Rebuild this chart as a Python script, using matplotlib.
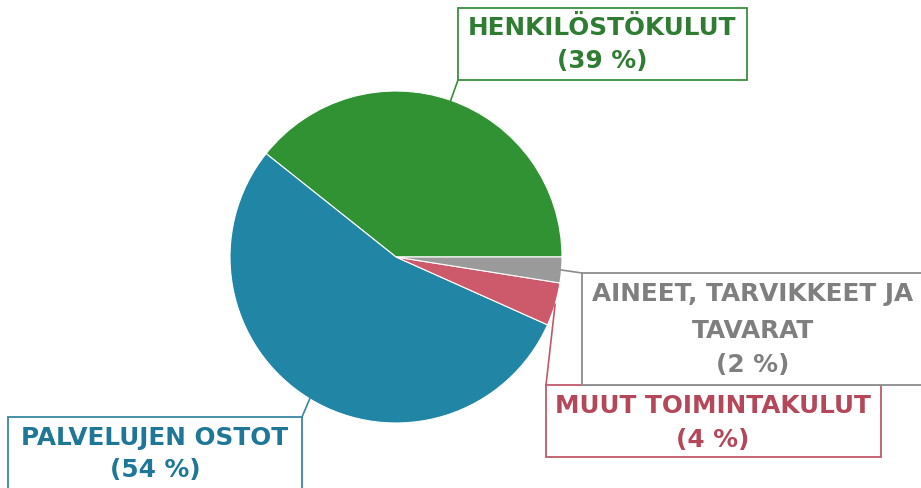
import matplotlib
matplotlib.use("Agg")
import matplotlib.pyplot as plt
import numpy as np
from matplotlib.patches import Rectangle

# Data
categories = ["HENKILÖSTÖKULUT", "PALVELUJEN OSTOT", "MUUT TOIMINTAKULUT", "AINEET, TARVIKKEET JA\nTAVARAT"]
values = [39.3, 54.0, 4.2, 2.5]
pct_labels = ["(39 %)", "(54 %)", "(4 %)", "(2 %)"]

slice_colors = ["#319234", "#2185a5", "#cc5a6b", "#9a9a9a"]
text_colors = ["#2e7d32", "#1f7797", "#b5475a", "#7f7f7f"]
edge_colors = ["#3a8f3e", "#3a87a3", "#c05a6a", "#8c8c8c"]

W, H = 921, 489
fig = plt.figure(figsize=(W / 100, H / 100), dpi=100)
ax = fig.add_axes([0, 0, 1, 1])

def Y(y):
    return H - y

cx, cy, r = 396, Y(258), 166
wedges, _ = ax.pie(values, colors=slice_colors, startangle=0, counterclock=True,
                   center=(cx, cy), radius=r, frame=True,
                   wedgeprops=dict(edgecolor="white", linewidth=0.8))
ax.set_xlim(0, W)
ax.set_ylim(0, H)
ax.set_aspect("equal")
ax.axis("off")

# label boxes: (x0, y0, x1, y1) in pixel coords (y down), text center x, line y's, anchor on box
boxes = [
    dict(rect=(458, 9, 747, 81), tx=602, ty=[28, 61], anchor=(458, 81)),
    dict(rect=(8, 418, 302, 500), tx=155, ty=[438, 470], anchor=(302, 418)),
    dict(rect=(546, 386, 881, 458), tx=713, ty=[406, 440], anchor=(546, 386)),
    dict(rect=(582, 274, 935, 386), tx=753, ty=[294, 331, 365], anchor=(582, 274)),
]

fp = dict(family=["DejaVu Sans"], weight="bold", fontsize=17.8)

for i, (w, b) in enumerate(zip(wedges, boxes)):
    mid = np.deg2rad((w.theta1 + w.theta2) / 2)
    px, py = cx + r * np.cos(mid), cy + r * np.sin(mid)
    ax_, ay_ = b["anchor"]
    ax.plot([px, ax_], [py, Y(ay_)], color=edge_colors[i], lw=1.2, zorder=1)
    x0, y0, x1, y1 = b["rect"]
    ax.add_patch(Rectangle((x0, Y(y1)), x1 - x0, y1 - y0, facecolor="white",
                           edgecolor=edge_colors[i], lw=1.3, zorder=2, clip_on=False))
    lines = categories[i].split("\n") + [pct_labels[i]]
    for line, yy in zip(lines, b["ty"]):
        ax.text(b["tx"], Y(yy), line, color=text_colors[i], ha="center", va="center",
                zorder=3, **fp)

fig.savefig("out.png", dpi=100)
